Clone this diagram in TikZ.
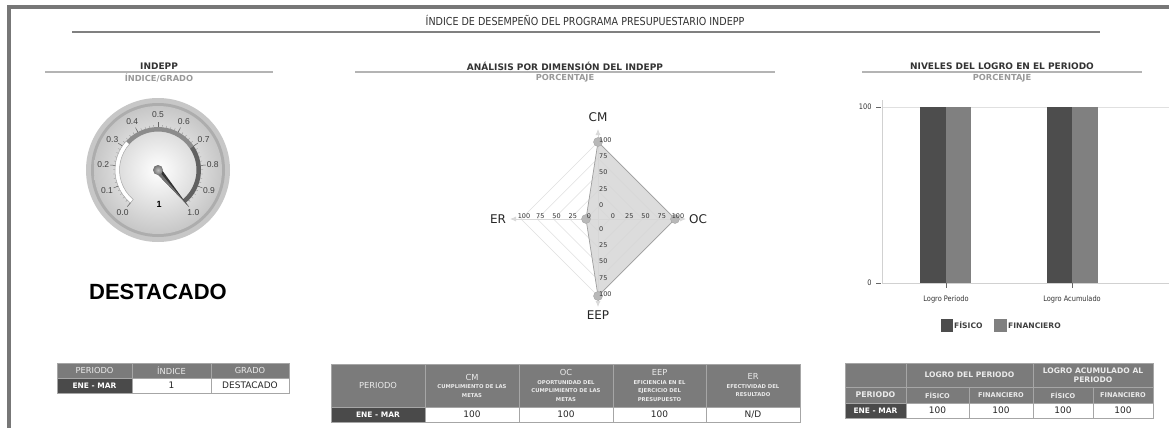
\documentclass[tikz,border=0pt]{standalone}
\usepackage{fontspec}
\setmainfont{DejaVu Sans}
\newfontfamily\narrowfont[FakeStretch=0.87]{DejaVu Sans}
\newfontfamily\arialfont{Liberation Sans}
\usetikzlibrary{calc,arrows.meta}

\definecolor{framegray}{HTML}{777777}
\definecolor{headgray}{HTML}{7B7B7B}
\definecolor{darkcell}{HTML}{4A4A4A}
\definecolor{rulegray}{HTML}{B4B4B4}
\definecolor{fisico}{HTML}{4D4D4D}
\definecolor{financiero}{HTML}{808080}

\newcommand\subhead{\bfseries\fontsize{5.3}{8.5}\selectfont}

\tikzset{
  maintitle/.style={font=\narrowfont\fontsize{11}{12}\selectfont, text=black!80},
  paneltitle/.style={font=\bfseries\fontsize{9}{10}\selectfont, text=black!80},
  panelsub/.style={font=\bfseries\fontsize{8.3}{9}\selectfont, text=black!40},
  panelrule/.style={draw=rulegray, line width=1.6pt},
  gaugelbl/.style={font=\arialfont\fontsize{8.5}{9}\selectfont, text=black!75},
  radgrid/.style={draw=black!12, line width=0.6pt},
  radaxis/.style={draw=black!15, line width=0.8pt, -{Latex[length=6pt,width=5pt]}},
  radnum/.style={font=\fontsize{6.5}{7}\selectfont, text=black!80, inner sep=0.5pt},
  radlbl/.style={font=\fontsize{12}{13}\selectfont, text=black!85},
  headcell/.style={fill=headgray, draw=black!35, line width=0.6pt},
  headtxt/.style={font=\fontsize{8.3}{9}\selectfont, text=white!92!black},
  keycell/.style={fill=darkcell, draw=black!35, line width=0.6pt},
  keytxt/.style={font=\bfseries\fontsize{7.5}{9}\selectfont, text=white},
  datacell/.style={fill=white, draw=black!35, line width=0.6pt},
  datatxt/.style={font=\fontsize{9}{10}\selectfont, text=black!85},
  charttxt/.style={font=\narrowfont\fontsize{7.6}{8}\selectfont, text=black!80},
}

\begin{document}
\begin{tikzpicture}[x=1pt,y=-1pt]
		%%%%% FRAME %%%%%
		\useasboundingbox (0,0) rectangle (1169,428);
		\fill[white] (0,0) rectangle (1169,428);
		\fill[framegray] (7,5) rectangle (1169,9);
		\fill[framegray] (7,5) rectangle (11,428);
		
		\node[maintitle] (title) at (585,20) {ÍNDICE DE DESEMPEÑO DEL PROGRAMA PRESUPUESTARIO INDEPP};
		\draw[black!50, line width=1.2pt] (72,32) -- (1100,32);
		
		%%%%% PANEL HEADINGS %%%%%
		\node[paneltitle] (t1) at (159,66) {INDEPP};
		\draw[panelrule] (45,72) -- (273,72);
		\node[panelsub] (s1) at (159,78.5) {ÍNDICE/GRADO};
		
		\node[paneltitle] (t2) at (565,66) {ANÁLISIS POR DIMENSIÓN DEL INDEPP};
		\draw[panelrule] (355,72) -- (775,72);
		\node[panelsub] (s2) at (565,78.5) {PORCENTAJE};
		
		\node[paneltitle] (t3) at (1002,66) {NIVELES DEL LOGRO EN EL PERIODO};
		\draw[panelrule] (862,72) -- (1142,72);
		\node[panelsub] (s3) at (1002,78.5) {PORCENTAJE};
		
		%%%%% GAUGE %%%%%
		\begin{scope}[shift={(158,170)}, yscale=-1]
			\fill[black!22] (0,0) circle (72);
			\fill[black!32] (0,0) circle (67);
			\shade[inner color=white, outer color=black!22] (0,0) circle (64);
			% scale band
			\filldraw[fill=white, draw=black!35, line width=0.5pt] (230:43) arc (230:137.6:43) -- (137.6:38.5) arc (137.6:230:38.5) -- cycle;
			\fill[black!45] (137.6:43) arc (137.6:34:43) -- (34:38.5) arc (34:137.6:38.5) -- cycle;
			\fill[black!62] (34:43) arc (34:-50:43) -- (-50:38.5) arc (-50:34:38.5) -- cycle;
			\foreach \i in {0,...,50}
				\draw[black!45, line width=0.3pt] ({230-5.6*\i}:43) -- ({230-5.6*\i}:45);
			\foreach \i in {0,...,10}
				\draw[black!60, line width=0.5pt] ({230-28*\i}:43) -- ({230-28*\i}:48);
			\foreach \i/\t in {0/0.0,1/0.1,2/0.2,3/0.3,4/0.4,5/0.5,6/0.6,7/0.7,8/0.8,9/0.9,10/1.0}
				\node[gaugelbl] (g\i) at ({230-28*\i}:55) {\t};
			% needle
			\fill[black!80] (40:3.2) -- (-50:46) -- (-140:3.2) -- cycle;
			\fill[black!55] (0,0) -- (-50:46) -- (-140:3.2) -- cycle;
			\shade[inner color=black!25, outer color=black!55] (0,0) circle (5);
			\node[font=\arialfont\bfseries\fontsize{9}{10}\selectfont] (gval) at (1,-34) {1};
		\end{scope}
		
		\node[font=\arialfont\bfseries\fontsize{22}{24}\selectfont] (grado) at (158,292) {DESTACADO};
		
		%%%%% RADAR %%%%%
		\begin{scope}[shift={(598,219)}, yscale=-1]
			\coordinate (rc) at (0,0);
			\foreach \v in {0,25,50,75,100} {
				\pgfmathsetmacro\r{12+0.65*\v}
				\draw[radgrid] (\r,0) -- (0,\r) -- (-\r,0) -- (0,-\r) -- cycle;
			}
			\coordinate (cmend) at (0,90);
			\coordinate (ocend) at (88,0);
			\coordinate (eepend) at (0,-88);
			\coordinate (erend) at (-88,0);
			\foreach \e in {cmend,ocend,eepend,erend}
				\draw[radaxis] (rc) -- (\e);
			% data
			\coordinate (pcm) at (0,77);
			\coordinate (poc) at (77,0);
			\coordinate (peep) at (0,-77);
			\coordinate (per) at (-12,0);
			\filldraw[fill=black!16, fill opacity=0.85, draw=black!38, line width=0.7pt] (pcm) -- (poc) -- (peep) -- (per) -- cycle;
			\foreach \p in {pcm,poc,peep,per}
				\filldraw[fill=black!28, draw=black!35, line width=0.4pt] (\p) circle (4.5);
			\foreach \v in {0,25,50,75,100} {
				\pgfmathsetmacro\r{12+0.65*\v}
				\node[radnum, anchor=west] at (0.5,\r+2) {\v};
				\node[radnum, anchor=west] at (0.5,-\r+2) {\v};
				\node[radnum] at (\r+3,3) {\v};
				\node[radnum] at (-\r+3,3) {\v};
			}
			\node[radlbl] (cm) at (0,102) {CM};
			\node[radlbl] (oc) at (100,0) {OC};
			\node[radlbl] (eep) at (0,-96) {EEP};
			\node[radlbl] (er) at (-100,0) {ER};
		\end{scope}
		
		%%%%% BAR CHART %%%%%
		\draw[black!12, line width=0.6pt] (882,107) -- (1169,107);
		\draw[black!18, line width=0.8pt] (882,100) -- (882,283) -- (1169,283);
		\draw[black!60, line width=0.5pt] (876,107) -- (881,107);
		\draw[black!60, line width=0.5pt] (876,283) -- (881,283);
		\node[charttxt, anchor=east] (y100) at (875,107) {100};
		\node[charttxt, anchor=east] (y0) at (875,283) {0};
		\fill[fisico] (920,107) rectangle (946,283);
		\fill[financiero] (946,107) rectangle (971,283);
		\fill[fisico] (1047,107) rectangle (1072,283);
		\fill[financiero] (1072,107) rectangle (1098,283);
		\draw[black!60, line width=0.5pt] (946,283) -- (946,288);
		\draw[black!60, line width=0.5pt] (1072,283) -- (1072,288);
		\node[charttxt] (c1) at (946,299) {Logro Periodo};
		\node[charttxt] (c2) at (1072,299) {Logro Acumulado};
		% legend
		\fill[fisico] (941,319) rectangle (953,332);
		\node[font=\bfseries\fontsize{7.6}{8}\selectfont, text=black!75, anchor=west, inner sep=1pt] (lf) at (953,325.5) {FÍSICO};
		\fill[financiero] (994,319) rectangle (1007,332);
		\node[font=\bfseries\fontsize{7.6}{8}\selectfont, text=black!75, anchor=west, inner sep=1pt] (lfin) at (1007,325.5) {FINANCIERO};
		
		%%%%% LEFT TABLE %%%%%
		\foreach \a/\b/\t [count=\i] in {57/132/PERIODO, 132/211/ÍNDICE, 211/289/GRADO} {
			\filldraw[headcell] (\a,363) rectangle (\b,378);
			\node[headtxt] (lh\i) at ({(\a+\b)/2},370.5) {\t};
		}
		\filldraw[keycell] (57,378) rectangle (132,393);
		\node[keytxt] (lk) at (94.5,385.5) {ENE - MAR};
		\filldraw[datacell] (132,378) rectangle (211,393);
		\node[datatxt] (ld1) at (171.5,385.5) {1};
		\filldraw[datacell] (211,378) rectangle (289,393);
		\node[datatxt] (ld2) at (250,385.5) {DESTACADO};
		
		%%%%% MIDDLE TABLE %%%%%
		\foreach \a/\b in {331/425, 425/519, 519/613, 613/706, 706/800}
			\filldraw[headcell] (\a,364) rectangle (\b,407);
		\node[headtxt] (mh1) at (378,385.5) {PERIODO};
		\node[headtxt, font=\subhead, align=center] (mh2) at (472,385.5) {{\fontsize{8.3}{8.5}\selectfont\mdseries CM}\\CUMPLIMIENTO DE LAS\\METAS};
		\node[headtxt, font=\subhead, align=center] (mh3) at (566,385.5) {{\fontsize{8.3}{8.5}\selectfont\mdseries OC}\\OPORTUNIDAD DEL\\CUMPLIMIENTO DE LAS\\METAS};
		\node[headtxt, font=\subhead, align=center] (mh4) at (659.5,385.5) {{\fontsize{8.3}{8.5}\selectfont\mdseries EEP}\\EFICIENCIA EN EL\\EJERCICIO DEL\\PRESUPUESTO};
		\node[headtxt, font=\subhead, align=center] (mh5) at (753,385.5) {{\fontsize{8.3}{8.5}\selectfont\mdseries ER}\\EFECTIVIDAD DEL\\RESULTADO};
		\filldraw[keycell] (331,407) rectangle (425,422);
		\node[keytxt] (mk) at (378,414.5) {ENE - MAR};
		\foreach \a/\b [count=\i] in {425/519, 519/613, 613/706} {
			\filldraw[datacell] (\a,407) rectangle (\b,422);
			\node[datatxt] (md\i) at ({(\a+\b)/2},414.5) {100};
		}
		\filldraw[datacell] (706,407) rectangle (800,422);
		\node[datatxt] (md4) at (753,414.5) {N/D};
		
		%%%%% RIGHT TABLE %%%%%
		\filldraw[headcell] (845,363) rectangle (906,387);
		\filldraw[headcell] (906,363) rectangle (1033,387);
		\filldraw[headcell] (1033,363) rectangle (1153,387);
		\node[headtxt, font=\bfseries\fontsize{7.6}{9}\selectfont] (rh1) at (969.5,375) {LOGRO DEL PERIODO};
		\node[headtxt, font=\bfseries\fontsize{7.6}{9.5}\selectfont, align=center] (rh2) at (1093,375) {LOGRO ACUMULADO AL\\PERIODO};
		\foreach \a/\b/\t [count=\i] in {906/969/FÍSICO, 969/1033/FINANCIERO, 1033/1093/FÍSICO, 1093/1153/FINANCIERO} {
			\filldraw[headcell] (\a,387) rectangle (\b,403);
			\node[headtxt, font=\bfseries\fontsize{6.6}{7}\selectfont] (rs\i) at ({(\a+\b)/2},395) {\t};
		}
		\filldraw[headcell] (845,387) rectangle (906,403);
		\node[headtxt, font=\bfseries\fontsize{7.8}{9}\selectfont] (rp) at (875.5,395) {PERIODO};
		\filldraw[keycell] (845,403) rectangle (906,418);
		\node[keytxt] (rk) at (875.5,410.5) {ENE - MAR};
		\foreach \a/\b [count=\i] in {906/969, 969/1033, 1033/1093, 1093/1153} {
			\filldraw[datacell] (\a,403) rectangle (\b,418);
			\node[datatxt] (rd\i) at ({(\a+\b)/2},410.5) {100};
		}
	\end{tikzpicture}
\end{document}
